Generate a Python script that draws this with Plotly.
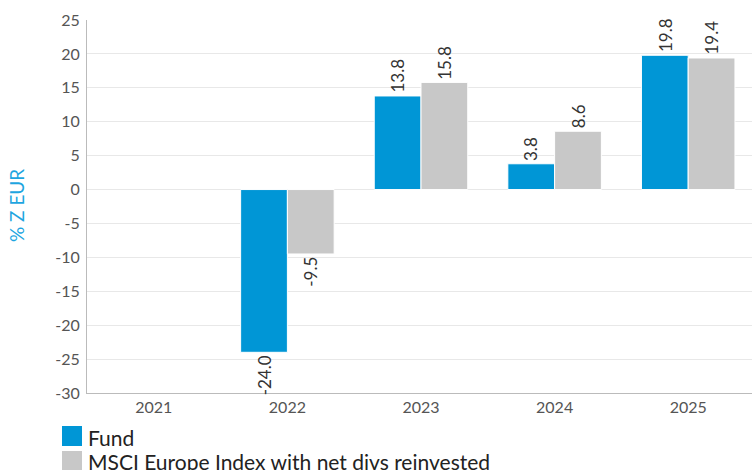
import plotly.graph_objects as go

years = ["2021", "2022", "2023", "2024", "2025"]
fund = [None, -24.0, 13.8, 3.8, 19.8]
index = [None, -9.5, 15.8, 8.6, 19.4]
fund_name = "Fund"
index_name = "MSCI Europe Index with net divs reinvested"
y_ticks = [25, 20, 15, 10, 5, 0, -5, -10, -15, -20, -25, -30]
y_ticktext = [str(t) for t in y_ticks]
y_title = "% Z EUR"

FUND_COLOR = "#0096d6"
INDEX_COLOR = "#c8c8c8"
FONT = "Lato, Open Sans, sans-serif"
BARGAP = 0.30

W, H = 755, 470
ML, MR, MT, MB = 87, 0, 20, 77
PW, PH = W - ML - MR, H - MT - MB

def px_x(px):
    return (px - ML) / PW

def px_y(py):
    return (H - MB - py) / PH

fig = go.Figure()
series = [(fund_name, fund, FUND_COLOR), (index_name, index, INDEX_COLOR)]
for name, vals, color in series:
    fig.add_trace(go.Bar(
        x=years, y=vals, name=name, showlegend=False,
        marker=dict(color=color, line=dict(color="white", width=1)),
    ))

annotations = []
# value labels (rotated) placed at the end of each bar
half = (1 - BARGAP) / 4
for s, (name, vals, color) in enumerate(series):
    off = -half if s == 0 else half
    for i, v in enumerate(vals):
        if v is None:
            continue
        annotations.append(dict(
            x=i + off, y=v, xref="x", yref="y", text=f"{v:.1f}",
            textangle=-90, showarrow=False, xanchor="center",
            yanchor="bottom" if v >= 0 else "top",
            yshift=1 if v >= 0 else -1,
            font=dict(size=17, color="#333333", family=FONT),
        ))

# legend drawn below the plot
shapes = []
for i, (name, vals, color) in enumerate(series):
    top = 426 + i * 25
    shapes.append(dict(type="rect", xref="paper", yref="paper",
                       x0=px_x(62), x1=px_x(82), y0=px_y(top), y1=px_y(top + 20),
                       fillcolor=color, line=dict(width=0)))
    annotations.append(dict(text=name, xref="paper", yref="paper",
                            x=px_x(86), y=px_y(top + 11), xanchor="left", yanchor="middle",
                            showarrow=False, font=dict(size=21, color="#222222", family=FONT)))

annotations.append(dict(text=y_title, xref="paper", yref="paper",
                        x=px_x(16), y=px_y(206), xanchor="center", yanchor="middle",
                        textangle=-90, showarrow=False,
                        font=dict(size=19, color="#1ea5e0", family=FONT)))

fig.update_layout(
    width=W, height=H,
    margin=dict(l=ML, r=MR, t=MT, b=MB, autoexpand=False),
    paper_bgcolor="white", plot_bgcolor="white",
    barmode="group", bargap=BARGAP, bargroupgap=0,
    font=dict(family=FONT, color="#555555", size=16),
    showlegend=False,
    shapes=shapes, annotations=annotations,
    xaxis=dict(
        showline=True, linecolor="#bbbbbb", linewidth=1,
        ticks="", tickfont=dict(size=16, color="#555555"),
        showgrid=False, automargin=False,
    ),
    yaxis=dict(
        range=[-30, 25], tickvals=y_ticks, ticktext=y_ticktext,
        showline=True, linecolor="#bbbbbb", linewidth=1,
        gridcolor="#e8e8e8", zeroline=False,
        ticks="", tickfont=dict(size=16, color="#555555"),
        ticklabelstandoff=3, automargin=False,
    ),
)

fig.write_html(
    "out.html",
    config={"displayModeBar": False},
    post_script="document.body.style.margin='0';document.body.style.overflow='hidden';"
                "document.documentElement.style.overflow='hidden';",
)
